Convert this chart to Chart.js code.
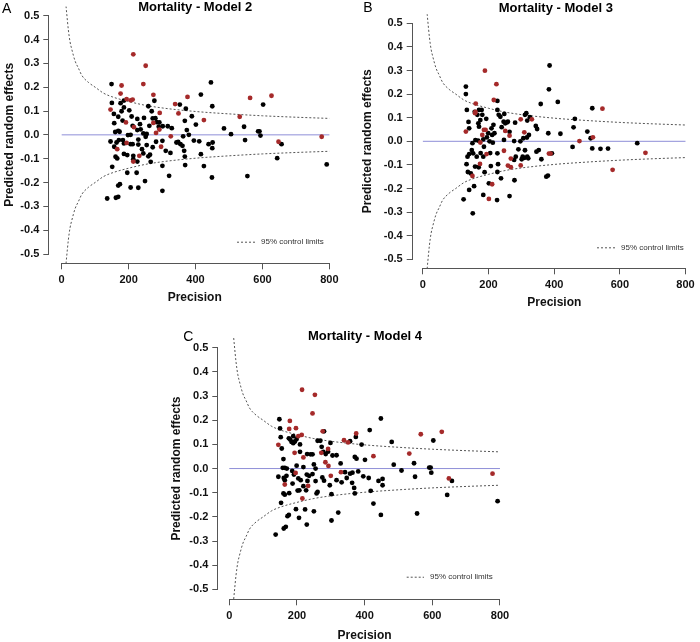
<!DOCTYPE html>
<html><head><meta charset="utf-8">
<script src="https://cdn.jsdelivr.net/npm/chart.js@4.4.1/dist/chart.umd.min.js"></script>
<style>
html,body{margin:0;padding:0;background:#fff;overflow:hidden;width:700px;height:642px;position:relative}
canvas{position:absolute}
</style></head><body>
<canvas id="cA" width="350" height="320" style="left:0;top:0"></canvas>
<canvas id="cB" width="350" height="320" style="left:350px;top:0"></canvas>
<canvas id="cC" width="380" height="322" style="left:160px;top:320px"></canvas>
<script>
// ---- axis ticks ----
const xTicks = [0, 200, 400, 600, 800];
const yTicks = [-0.5, -0.4, -0.3, -0.2, -0.1, 0, 0.1, 0.2, 0.3, 0.4, 0.5];

// ---- 95% control limits ----
const limitX     = [13, 15, 20, 25, 30, 40, 50, 60, 80, 100, 125, 150, 200, 250, 300, 400, 500, 600, 700, 800];
const upperLimit = [0.54, 0.51, 0.44, 0.39, 0.36, 0.31, 0.28, 0.25, 0.22, 0.20, 0.175, 0.16, 0.14, 0.124, 0.113, 0.098, 0.088, 0.08, 0.074, 0.069];
const lowerLimit = [-0.54, -0.51, -0.44, -0.39, -0.36, -0.31, -0.28, -0.25, -0.22, -0.20, -0.175, -0.16, -0.14, -0.124, -0.113, -0.098, -0.088, -0.08, -0.074, -0.069];

// ---- reference line ----
const zeroX = [0, 800];
const zeroY = [0, 0];

// ---- texts ----
const panelLetters = ['A', 'B', 'C'];
const panelTitles = ['Mortality - Model 2', 'Mortality - Model 3', 'Mortality - Model 4'];
const xTitle = 'Precision';
const yTitle = 'Predicted random effects';
const legendText = '95% control limits';

// ---- Panel A: [precision, predicted random effect] ----
const aBlack = [[149,0.213],[446,0.22],[416,0.169],[277,0.143],[450,0.12],[602,0.127],[150,0.134],[186,0.144],[176,0.133],[186,0.115],[156,0.088],[179,0.099],[202,0.103],[209,0.077],[226,0.067],[246,0.071],[259,0.12],[269,0.099],[272,0.069],[353,0.127],[371,0.11],[389,0.078],[401,0.043],[157,0.049],[169,0.017],[212,0.038],[234,0.045],[262,0.038],[284,0.053],[290,0.034],[302,0.036],[317,0.036],[329,0.028],[374,0.02],[368,0.059],[206,0.0],[226,0.02],[244,0.006],[254,0.004],[251,-0.008],[380,0.0],[363,-0.006],[146,-0.028],[157,-0.05],[164,-0.032],[171,-0.022],[183,-0.022],[186,-0.036],[206,-0.039],[212,-0.039],[229,-0.02],[229,-0.041],[254,-0.043],[272,-0.052],[282,-0.029],[301,-0.025],[311,-0.067],[325,-0.076],[343,-0.032],[355,-0.039],[361,-0.046],[366,-0.067],[368,-0.091],[395,-0.024],[411,-0.027],[416,-0.081],[439,-0.039],[451,-0.032],[450,-0.056],[485,0.027],[506,0.003],[545,0.034],[548,-0.022],[587,0.015],[591,0.015],[594,-0.003],[657,-0.039],[644,-0.098],[792,-0.124],[555,-0.173],[449,-0.179],[425,-0.131],[369,-0.127],[321,-0.172],[301,-0.13],[301,-0.235],[249,-0.194],[229,-0.222],[206,-0.221],[224,-0.159],[196,-0.159],[174,-0.207],[169,-0.213],[136,-0.267],[162,-0.264],[169,-0.26],[151,-0.134],[161,-0.092],[166,-0.099],[186,-0.08],[196,-0.085],[214,-0.088],[214,-0.102],[226,-0.112],[244,-0.078],[259,-0.09],[264,-0.083],[266,-0.113],[169,0.076],[292,0.052],[173,0.013],[160,0.012],[236,0.023],[198,-0.001],[182,0.06],[280,0.07],[240,-0.06],[348,-0.03]];
const aRed = [[214,0.338],[251,0.29],[244,0.213],[179,0.207],[176,0.173],[274,0.168],[376,0.159],[194,0.15],[206,0.145],[212,0.148],[146,0.106],[339,0.129],[349,0.09],[293,0.092],[192,0.052],[425,0.062],[532,0.076],[563,0.155],[627,0.164],[274,0.05],[216,0.032],[292,0.022],[282,0.008],[326,-0.006],[194,-0.034],[297,-0.05],[166,-0.06],[214,-0.112],[232,-0.088],[648,-0.029],[777,-0.008]];

// ---- Panel B ----
const bBlack = [[131,0.232],[131,0.2],[134,0.133],[139,0.082],[141,0.055],[151,-0.008],[141,-0.054],[136,-0.065],[133,-0.097],[137,-0.13],[146,-0.136],[141,-0.206],[124,-0.246],[152,-0.305],[156,-0.19],[159,-0.107],[164,-0.065],[153,-0.051],[149,-0.037],[168,0.003],[171,0.133],[179,0.133],[166,0.112],[169,0.076],[171,0.062],[181,0.112],[184,0.008],[186,-0.023],[184,-0.065],[188,-0.131],[184,-0.227],[201,-0.178],[195,0.017],[199,0.034],[209,0.055],[211,0.027],[218,0.034],[213,-0.006],[227,-0.051],[229,-0.097],[227,-0.13],[226,-0.249],[238,-0.157],[264,-0.232],[279,-0.165],[227,0.171],[227,0.133],[231,0.112],[236,0.104],[246,0.083],[251,0.076],[259,0.083],[248,0.116],[281,0.079],[247,0.006],[278,0.001],[278,-0.079],[283,-0.065],[291,-0.034],[301,-0.076],[304,-0.065],[311,-0.038],[315,0.119],[311,0.112],[318,0.088],[323,0.027],[306,0.013],[317,0.016],[318,-0.065],[321,-0.072],[326,0.102],[344,0.065],[348,0.052],[346,-0.044],[353,-0.037],[361,-0.076],[359,0.158],[381,-0.145],[376,-0.15],[386,0.321],[384,0.22],[382,0.034],[393,-0.051],[411,0.167],[419,0.032],[456,-0.024],[459,0.059],[463,0.095],[501,0.041],[511,0.013],[516,-0.03],[516,0.14],[541,-0.032],[564,-0.031],[653,-0.008],[158,0.125],[175,0.09],[193,0.095],[203,0.0],[205,-0.05],[215,0.07],[240,0.06],[256,0.08],[264,0.04],[297,0.0],[310,-0.07],[176,-0.05],[170,-0.11],[207,-0.105],[160,0.005]];
const bRed = [[189,0.299],[224,0.242],[216,0.175],[161,0.16],[131,0.041],[159,0.119],[191,0.048],[186,0.048],[181,0.027],[194,-0.054],[174,-0.096],[151,-0.147],[211,-0.182],[201,-0.244],[247,-0.04],[251,0.044],[264,0.024],[298,0.093],[332,0.093],[309,0.038],[268,-0.073],[259,-0.103],[268,-0.11],[298,-0.102],[384,-0.052],[389,-0.052],[477,0.001],[518,0.017],[547,0.138],[578,-0.121],[678,-0.049],[160,0.125],[175,-0.005]];

// ---- Panel C ----
const cBlack = [[148,0.204],[448,0.207],[415,0.159],[280,0.154],[480,0.11],[603,0.116],[150,0.166],[152,0.13],[176,0.125],[180,0.12],[184,0.11],[189,0.105],[194,0.112],[199,0.122],[189,0.134],[155,0.083],[209,0.069],[240,0.059],[246,0.059],[261,0.115],[269,0.115],[273,0.09],[278,0.069],[299,0.106],[305,0.054],[317,0.055],[329,0.021],[357,0.113],[374,0.131],[391,0.099],[371,0.048],[376,0.041],[401,0.036],[160,0.039],[164,0.003],[158,0.003],[199,0.012],[219,0.006],[250,0.017],[255,0.0],[145,-0.034],[161,-0.039],[169,-0.03],[164,-0.048],[186,-0.01],[191,-0.025],[187,-0.062],[204,-0.041],[211,-0.048],[229,-0.025],[231,-0.051],[246,-0.023],[255,-0.052],[275,-0.037],[297,-0.069],[302,-0.106],[317,-0.048],[332,-0.057],[342,-0.015],[347,-0.039],[357,-0.021],[364,-0.017],[363,-0.059],[369,-0.08],[371,-0.103],[381,-0.012],[396,-0.032],[412,-0.039],[418,-0.092],[441,-0.051],[453,-0.043],[453,-0.069],[486,0.016],[509,-0.008],[546,0.022],[549,-0.034],[591,0.004],[595,0.004],[597,-0.017],[658,-0.051],[644,-0.109],[793,-0.135],[555,-0.186],[448,-0.192],[426,-0.145],[322,-0.182],[302,-0.215],[250,-0.177],[229,-0.232],[224,-0.169],[206,-0.204],[197,-0.168],[172,-0.197],[176,-0.192],[167,-0.241],[161,-0.248],[137,-0.273],[153,-0.142],[160,-0.103],[164,-0.108],[177,-0.102],[202,-0.091],[207,-0.09],[219,-0.073],[227,-0.09],[258,-0.103],[261,-0.097],[209,0.1],[230,0.06],[285,0.06],[292,0.07],[170,0.0],[236,-0.03],[280,-0.05]];
const cRed = [[215,0.326],[253,0.305],[246,0.228],[179,0.197],[177,0.164],[197,0.167],[214,0.139],[204,0.134],[145,0.098],[193,0.065],[219,0.046],[276,0.154],[375,0.145],[339,0.117],[351,0.108],[272,0.065],[292,0.081],[426,0.051],[532,0.062],[566,0.142],[628,0.152],[284,0.026],[293,0.011],[330,-0.015],[300,-0.03],[196,-0.018],[164,-0.066],[233,-0.072],[216,-0.124],[649,-0.041],[778,-0.021]];

const FONT = '"Liberation Sans", Arial, Helvetica, sans-serif';
Chart.defaults.font.family = FONT;
Chart.defaults.color = '#111';

const rStyle = {
  id: 'rStyle',
  afterDraw(chart, args, o) {
    const {ctx, chartArea: ca, scales: {x, y}} = chart;
    ctx.save();
    ctx.setLineDash([]);
    // R-style axis lines spanning only the tick range
    ctx.strokeStyle = '#555'; ctx.lineWidth = 1;
    const by = Math.round(ca.bottom) + 0.5, lx = Math.round(ca.left) - 0.5;
    ctx.beginPath();
    ctx.moveTo(x.getPixelForValue(xTicks[0]), by);
    ctx.lineTo(x.getPixelForValue(xTicks[xTicks.length - 1]), by);
    ctx.moveTo(lx, y.getPixelForValue(yTicks[0]));
    ctx.lineTo(lx, y.getPixelForValue(yTicks[yTicks.length - 1]));
    ctx.stroke();
    // title and panel letter
    ctx.fillStyle = '#000';
    ctx.textBaseline = 'alphabetic';
    ctx.textAlign = 'center';
    ctx.font = 'bold 13px ' + FONT;
    ctx.fillText(o.title, o.titleX, o.titleY);
    ctx.textAlign = 'left';
    ctx.font = '14px ' + FONT;
    ctx.fillText(o.letter, o.letterX, o.letterY);
    // legend
    const ds = chart.data.datasets[2];
    ctx.strokeStyle = ds.borderColor; ctx.lineWidth = ds.borderWidth;
    ctx.setLineDash(ds.borderDash);
    ctx.beginPath();
    ctx.moveTo(o.legX1, o.legY + 0.5); ctx.lineTo(o.legX2, o.legY + 0.5);
    ctx.stroke();
    ctx.setLineDash([]);
    ctx.font = '8px ' + FONT; ctx.fillStyle = '#333'; ctx.textBaseline = 'middle';
    ctx.fillText(legendText, o.legX2 + 6, o.legY);
    ctx.restore();
  }
};

function pts(arr) { return arr.map(p => ({x: p[0], y: p[1]})); }
function line(xs, ys) { return xs.map((v, i) => ({x: v, y: ys[i]})); }

function makePanel(id, idx, black, red, c) {
  new Chart(document.getElementById(id), {
    type: 'scatter',
    data: {
      datasets: [
        {data: pts(red), backgroundColor: '#a52a2a', borderWidth: 0, pointRadius: 2.4},
        {data: pts(black), backgroundColor: '#000', borderWidth: 0, pointRadius: 2.4},
        {data: line(limitX, upperLimit), showLine: true, borderColor: '#555', borderWidth: 1, borderDash: [2, 2], pointRadius: 0, cubicInterpolationMode: 'monotone'},
        {data: line(limitX, lowerLimit), showLine: true, borderColor: '#555', borderWidth: 1, borderDash: [2, 2], pointRadius: 0, cubicInterpolationMode: 'monotone'},
        {data: line(zeroX, zeroY), showLine: true, borderColor: '#8e8ed8', borderWidth: 1, pointRadius: 0}
      ]
    },
    options: {
      responsive: false, animation: false, devicePixelRatio: 1, events: [],
      layout: {padding: c.pad},
      plugins: {
        legend: {display: false}, tooltip: {enabled: false},
        rStyle: {title: panelTitles[idx], letter: panelLetters[idx], titleX: c.titleX, titleY: c.titleY,
                 letterX: c.letterX, letterY: c.letterY, legX1: c.legX1, legX2: c.legX2, legY: c.legY}
      },
      scales: {
        x: {
          type: 'linear', min: c.xmin, max: c.xmax,
          afterBuildTicks: s => { s.ticks = xTicks.map(v => ({value: v})); },
          afterFit: s => { s.height = c.xHeight; s.paddingLeft = 0; s.paddingRight = 0; },
          grid: {display: true, drawOnChartArea: false, drawTicks: true, tickLength: 6, color: '#555', lineWidth: 1},
          border: {display: false},
          ticks: {autoSkip: false, maxRotation: 0, padding: 4, font: {size: 11, weight: 'bold'}, color: '#111'},
          title: {display: true, text: xTitle, font: {size: 12, weight: 'bold', lineHeight: 1}, color: '#111', padding: {top: 0, bottom: c.xTitlePad}}
        },
        y: {
          type: 'linear', min: c.ymin, max: c.ymax,
          afterBuildTicks: s => { s.ticks = yTicks.map(v => ({value: v})); },
          afterFit: s => { s.width = c.yWidth; s.paddingTop = 0; s.paddingBottom = 0; },
          grid: {display: true, drawOnChartArea: false, drawTicks: true, tickLength: 6, color: '#555', lineWidth: 1},
          border: {display: false},
          ticks: {autoSkip: false, padding: 4, font: {size: 11, weight: 'bold'}, color: '#111',
                  callback: v => Number(v).toFixed(1)},
          title: {display: true, text: yTitle, font: {size: 12, weight: 'bold', lineHeight: 1}, color: '#111', padding: {top: c.yTitlePad, bottom: 0}}
        }
      }
    },
    plugins: [rStyle]
  });
}

makePanel('cA', 0, aBlack, aRed, {
  pad: {left: 0, top: 6.4, right: 9.9, bottom: 6.7}, yWidth: 49.3, xHeight: 50,
  xmin: -37, xmax: 832, ymin: -0.539, ymax: 0.539, yTitlePad: 4, xTitlePad: 9.8,
  titleX: 195.2, titleY: 11, letterX: 2, letterY: 12.7, legX1: 237, legX2: 255, legY: 241.7
});
makePanel('cB', 1, bBlack, bRed, {
  pad: {left: 0, top: 14.3, right: 0, bottom: 1.7}, yWidth: 62.7, xHeight: 50,
  xmin: -31, xmax: 832, ymin: -0.538, ymax: 0.538, yTitlePad: 12, xTitlePad: 9.8,
  titleX: 205.8, titleY: 12, letterX: 13.3, letterY: 12.3, legX1: 247, legX2: 265, legY: 247.3
});
makePanel('cC', 2, cBlack, cRed, {
  pad: {left: 0, top: 17.8, right: 29.2, bottom: 0}, yWidth: 58.3, xHeight: 42.7,
  xmin: -32.5, xmax: 832, ymin: -0.541, ymax: 0.541, yTitlePad: 10.7, xTitlePad: 0,
  titleX: 205, titleY: 20, letterX: 23.3, letterY: 20.7, legX1: 246.7, legX2: 264, legY: 256.7
});
</script>
</body></html>
